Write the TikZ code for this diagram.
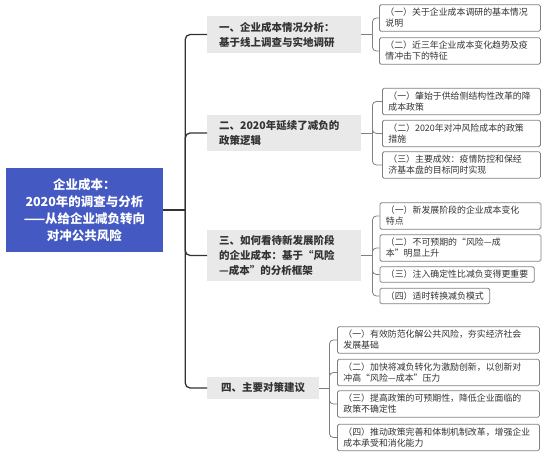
\documentclass[tikz,border=0pt]{standalone}
\usepackage{fontspec}
\setmainfont{Noto Sans CJK SC}
\usetikzlibrary{calc}

\definecolor{rootblue}{HTML}{4459C1}
\definecolor{lvgray}{HTML}{E9E9E9}
\definecolor{twiggray}{HTML}{808080}
\definecolor{inkgray}{HTML}{333333}

\begin{document}
\begin{tikzpicture}[x=1pt,y=-1pt,
  every node/.style={font=\fontsize{8.9}{11}\selectfont},
  rootbox/.style={fill=rootblue, text=white, align=center, minimum width=157, minimum height=84,
    font=\bfseries\fontsize{12.5}{17}\selectfont},
  lvone/.style={fill=lvgray, text=inkgray, align=left, anchor=west, inner xsep=12pt, inner ysep=5.75pt,
    font=\bfseries\fontsize{10.5}{15}\selectfont},
  lvtwo/.style={draw=twiggray, line width=0.8pt, rounded corners=1.5pt, fill=white, text=black!80,
    align=left, anchor=west, inner xsep=6pt, inner ysep=3.5pt},
  trunk/.style={draw=inkgray, line width=1.3pt, rounded corners=5pt},
  twig/.style={draw=twiggray, line width=0.8pt, rounded corners=4pt}]
  % 画布 550x457，y 轴向下
  \useasboundingbox (0,0) rectangle (550,457);

  % ── 根节点 ──
  \node[rootbox] (R) at (84.5,210) {企业成本：\\2020年的调查与分析\\——从给企业减负转向\\对冲公共风险};

  % ── 一级分支 ──
  \node[lvone, text width=130] (A) at (207,34.5) {一、企业成本情况分析：\\基于线上调查与实地调研};
  \node[lvone, text width=130] (B) at (207,133) {二、2020年延续了减负的\\政策逻辑};
  \node[lvone, text width=130] (C) at (207,255.5) {三、如何看待新发展阶段\\的企业成本：基于“风险\\—成本”的分析框架};
  \node[lvone, minimum width=112] (D) at (207,388) {四、主要对策建议};

  % 主干：根 → 竖线 → 四个一级节点
  \coordinate (T) at ($(R.east)+(22,0)$);
  \draw[trunk] (R.east) -- (T);
  \foreach \n in {A,B,C,D}{
    \draw[trunk] (T) |- (\n.west); }

  % ── 二级分支 ──
  % 一
  \node[lvtwo, text width=149] (a1) at (379,18) {（一）关于企业成本调研的基本情况\\说明};
  \node[lvtwo, text width=149] (a2) at (379,51) {（二）近三年企业成本变化趋势及疫\\情冲击下的特征};
  % 二
  \node[lvtwo, text width=146] (b1) at (382,101.5) {（一）肇始于供给侧结构性改革的降\\成本政策};
  \node[lvtwo, text width=146] (b2) at (382,133.5) {（二）2020年对冲风险成本的政策\\措施};
  \node[lvtwo, text width=146] (b3) at (382,165) {（三）主要成效：疫情防控和保经\\济基本盘的目标同时实现};
  % 三
  \node[lvtwo, text width=149] (c1) at (379.5,216) {（一）新发展阶段的企业成本变化\\特点};
  \node[lvtwo, text width=149] (c2) at (379.5,248) {（二）不可预期的“风险—成\\本”明显上升};
  \node[lvtwo] (c3) at (379.5,274.5) {（三）注入确定性比减负变得更重要};
  \node[lvtwo] (c4) at (379.5,296) {（四）适时转换减负模式};
  % 四
  \node[lvtwo, text width=190] (d1) at (337,340) {（一）有效防范化解公共风险，夯实经济社会\\发展基础};
  \node[lvtwo, text width=190] (d2) at (337,372.5) {（二）加快将减负转化为激励创新，以创新对\\冲高“风险—成本”压力};
  \node[lvtwo, text width=190] (d3) at (337,404) {（三）提高政策的可预期性，降低企业面临的\\政策不确定性};
  \node[lvtwo, text width=190] (d4) at (337,437.5) {（四）推动政策完善和体制机制改革，增强企业\\成本承受和消化能力};

  % 括号连线：一级节点 → 二级节点
  \foreach \p/\dx/\kids in {A/11/{a1,a2}, B/11/{b1,b2,b3}, C/11/{c1,c2,c3,c4}, D/10/{d1,d2,d3,d4}}{
    \coordinate (k\p) at ($(\p.east)+(\dx,0)$);
    \draw[twig] (\p.east) -- (k\p);
    \foreach \m in \kids{
      \draw[twig] (k\p) |- (\m.west); } }
\end{tikzpicture}
\end{document}
